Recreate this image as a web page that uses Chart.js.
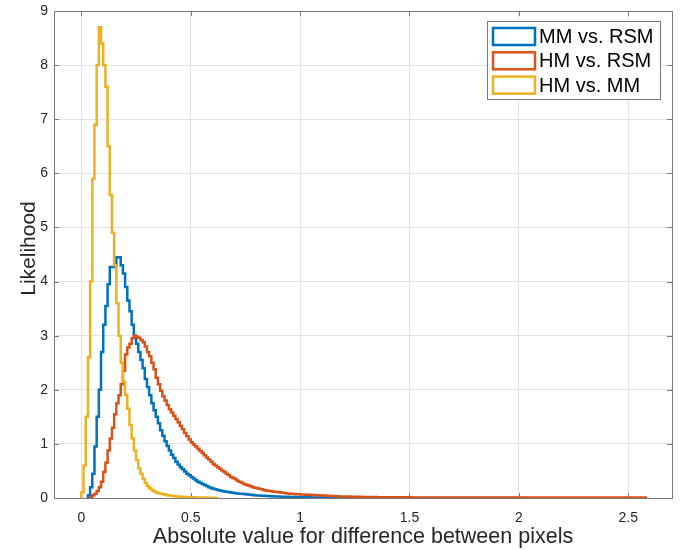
<!DOCTYPE html>
<html>
<head>
<meta charset="utf-8">
<title>Likelihood of pixel differences</title>
<script src="https://cdn.jsdelivr.net/npm/chart.js@4.4.0/dist/chart.umd.min.js"></script>
<style>
  html, body { margin: 0; padding: 0; background: #fff; }
  #chart { display: block; }
</style>
</head>
<body>
<canvas id="chart" width="687" height="550"></canvas>
<script>
// pdf-normalised histograms, every bin is 0.01 wide
const binWidth = 0.01;

const seriesNames = ["MM vs. RSM", "HM vs. RSM", "HM vs. MM"];
const seriesColors = ["#0072BD", "#D95319", "#EDB120"];
const firstBin = [0.03, 0.04, 0.0];

const mmVsRsm = [
  0.05, 0.2, 0.45, 0.95, 1.5, 2.0, 2.7, 3.2, 3.55, 3.95,
  4.27, 4.27, 4.3, 4.45, 4.45, 4.3, 4.15, 3.9, 3.65, 3.45,
  3.2, 3.0, 2.85, 2.7, 2.55, 2.4, 2.2, 2.05, 1.9, 1.75,
  1.62, 1.5, 1.38, 1.25, 1.15, 1.05, 0.96, 0.88, 0.8, 0.74,
  0.67, 0.62, 0.57, 0.53, 0.49, 0.45, 0.42, 0.39, 0.36, 0.33,
  0.3, 0.28, 0.26, 0.24, 0.22, 0.2, 0.185, 0.17, 0.16, 0.15,
  0.14, 0.13, 0.12, 0.115, 0.11, 0.1, 0.095, 0.09, 0.085, 0.08,
  0.078, 0.075, 0.07, 0.065, 0.06, 0.055, 0.05, 0.048, 0.045, 0.042,
  0.04, 0.037, 0.035, 0.033, 0.031, 0.029, 0.027, 0.026, 0.024, 0.023,
  0.022, 0.021, 0.02, 0.019, 0.018, 0.017, 0.016, 0.015, 0.014, 0.013,
  0.012, 0.012, 0.011, 0.01, 0.01, 0.009, 0.009, 0.008, 0.008, 0.007,
  0.007, 0.006, 0.006, 0.005, 0.005, 0.005, 0.004, 0.004, 0.004, 0.003,
  0.003, 0.003, 0.003, 0.002, 0.002, 0.002, 0.002, 0.002, 0.002, 0.001,
  0.001, 0, 0.001, 0.001, 0, 0.001, 0, 0, 0.001, 0,
  0.001, 0, 0, 0.001, 0, 0, 0.001, 0, 0, 0,
  0.001, 0, 0, 0, 0.001, 0, 0, 0, 0, 0.001,
  0, 0, 0, 0, 0.001, 0, 0, 0, 0, 0,
  0.001, 0, 0, 0, 0, 0, 0, 0.001, 0, 0,
  0, 0, 0, 0.001, 0, 0, 0, 0, 0, 0,
  0, 0, 0.001, 0, 0, 0, 0, 0, 0.001, 0.001
];

const hmVsRsm = [
  0.02, 0.05, 0.08, 0.13, 0.2, 0.3, 0.48, 0.65, 0.88, 1.1,
  1.3, 1.55, 1.75, 1.9, 2.1, 2.35, 2.65, 2.78, 2.85, 2.95,
  3.0, 2.98, 2.96, 2.92, 2.88, 2.8, 2.7, 2.62, 2.5, 2.38,
  2.22, 2.1, 1.98, 1.88, 1.8, 1.72, 1.64, 1.58, 1.52, 1.46,
  1.4, 1.33, 1.27, 1.2, 1.14, 1.08, 1.03, 0.99, 0.95, 0.91,
  0.87, 0.83, 0.79, 0.75, 0.71, 0.67, 0.63, 0.6, 0.57, 0.54,
  0.51, 0.48, 0.45, 0.42, 0.39, 0.37, 0.35, 0.32, 0.3, 0.28,
  0.26, 0.245, 0.23, 0.215, 0.2, 0.19, 0.18, 0.17, 0.16, 0.15,
  0.14, 0.135, 0.13, 0.12, 0.115, 0.11, 0.105, 0.1, 0.095, 0.09,
  0.085, 0.08, 0.077, 0.074, 0.07, 0.068, 0.065, 0.063, 0.061, 0.06,
  0.058, 0.056, 0.054, 0.052, 0.05, 0.048, 0.046, 0.044, 0.042, 0.04,
  0.038, 0.036, 0.034, 0.032, 0.03, 0.029, 0.028, 0.027, 0.026, 0.025,
  0.024, 0.023, 0.022, 0.021, 0.02, 0.02, 0.019, 0.018, 0.018, 0.017,
  0.017, 0.016, 0.016, 0.015, 0, 0.015, 0.014, 0.014, 0, 0.013,
  0.013, 0.013, 0.012, 0.012, 0.012, 0, 0.012, 0.011, 0.011, 0.011,
  0.011, 0.011, 0, 0.01, 0.01, 0.01, 0.01, 0.01, 0.01, 0,
  0.01, 0.01, 0.01, 0.01, 0, 0.01, 0.01, 0.009, 0.009, 0.009,
  0.009, 0, 0.009, 0.009, 0.009, 0.009, 0.009, 0, 0.009, 0.009,
  0.009, 0.009, 0.009, 0.008, 0, 0.008, 0.008, 0.008, 0.008, 0.008,
  0.008, 0, 0.008, 0.008, 0.008, 0.008, 0.008, 0.008, 0, 0.008,
  0.008, 0.008, 0.008, 0.008, 0.008, 0, 0.008, 0.008, 0.008, 0.008,
  0.008, 0.008, 0, 0.008, 0.008, 0.008, 0.008, 0.008, 0, 0.008,
  0.008, 0.008, 0.008, 0.008, 0.008, 0.008, 0, 0.008, 0.008, 0.008,
  0.008, 0.008, 0.008, 0, 0.008, 0.008, 0.008, 0.008, 0.008, 0.008,
  0, 0.008, 0.008, 0.008, 0.008, 0.008, 0.008, 0.008, 0, 0.008,
  0.008, 0.008, 0.008, 0.008
];

const hmVsMm = [
  0.1, 0.6, 1.5, 2.6, 4.0, 5.9, 6.9, 8.0, 8.7, 8.4,
  8.0, 7.6, 6.5, 5.6, 4.9, 4.3, 3.6, 3.0, 2.5, 2.15,
  1.9, 1.65, 1.35, 1.1, 0.88, 0.7, 0.55, 0.45, 0.35, 0.28,
  0.22, 0.18, 0.15, 0.12, 0.1, 0.09, 0.08, 0.07, 0.06, 0.05,
  0.045, 0.04, 0.035, 0.03, 0.028, 0.025, 0.022, 0.02, 0.018, 0.016,
  0.014, 0.012, 0.011, 0.01, 0.009, 0.008, 0.007, 0.006, 0.005, 0.004,
  0.003, 0.002
];

const xTicks = [0, 0.5, 1, 1.5, 2, 2.5];
const yTicks = [0, 1, 2, 3, 4, 5, 6, 7, 8, 9];

const FONT = "'Liberation Sans', Arial, Helvetica, sans-serif";
const AXIS_GREY = "#7a7a7a";
const LINE_W = 2.5;

// outline of a histogram: up at the first edge, across each bin, down at the last edge
function stairs(start, counts) {
  const pts = [{ x: start, y: 0 }];
  counts.forEach(function (c, i) {
    pts.push({ x: +(start + i * binWidth).toFixed(4), y: c });
  });
  pts.push({ x: +(start + counts.length * binWidth).toFixed(4), y: 0 });
  return pts;
}

const seriesValues = [mmVsRsm, hmVsRsm, hmVsMm];

const datasets = seriesValues.map(function (vals, i) {
  return {
    label: seriesNames[i],
    data: stairs(firstBin[i], vals),
    borderColor: seriesColors[i],
    backgroundColor: seriesColors[i],
    borderWidth: LINE_W,
    borderJoinStyle: "miter",
    stepped: true,
    pointRadius: 0,
    fill: false,
    // later series sit on top
    order: seriesValues.length - 1 - i,
  };
});

// box round the axes with inward tick marks, under the data
const axesBox = {
  id: "axesBox",
  beforeDatasetsDraw(chart) {
    const { ctx, chartArea: a, scales } = chart;
    const tick = 5;
    ctx.save();
    ctx.strokeStyle = AXIS_GREY;
    ctx.lineWidth = 1;
    ctx.beginPath();
    xTicks.forEach(function (v) {
      const px = Math.round(scales.x.getPixelForValue(v)) + 0.5;
      ctx.moveTo(px, a.bottom);
      ctx.lineTo(px, a.bottom - tick);
      ctx.moveTo(px, a.top);
      ctx.lineTo(px, a.top + tick);
    });
    yTicks.forEach(function (v) {
      const py = Math.round(scales.y.getPixelForValue(v)) + 0.5;
      ctx.moveTo(a.left, py);
      ctx.lineTo(a.left + tick, py);
      ctx.moveTo(a.right, py);
      ctx.lineTo(a.right - tick, py);
    });
    ctx.stroke();
    ctx.strokeRect(Math.round(a.left) + 0.5, Math.round(a.top) + 0.5,
      Math.round(a.right - a.left), Math.round(a.bottom - a.top));

    // y axis label, a little above the middle of the axis
    ctx.fillStyle = "#262626";
    ctx.font = "21px " + FONT;
    ctx.textAlign = "center";
    ctx.textBaseline = "middle";
    ctx.translate(29, (a.top + a.bottom) / 2 - 6);
    ctx.rotate(-Math.PI / 2);
    ctx.fillText("Likelihood", 0, 0);
    ctx.restore();
  },
};

// legend box in the top right corner, outlined swatches like stairs histograms
const boxLegend = {
  id: "boxLegend",
  afterDatasetsDraw(chart) {
    const ctx = chart.ctx;
    const left = 487.5, top = 21.5, w = 173, h = 78;
    ctx.save();
    ctx.fillStyle = "#fff";
    ctx.fillRect(left, top, w, h);
    ctx.strokeStyle = AXIS_GREY;
    ctx.lineWidth = 1;
    ctx.strokeRect(left, top, w, h);
    ctx.font = "20px " + FONT;
    ctx.textBaseline = "middle";
    ctx.textAlign = "left";
    seriesNames.forEach(function (name, i) {
      const cy = 36.5 + i * 24.3;
      ctx.strokeStyle = seriesColors[i];
      ctx.lineWidth = LINE_W;
      ctx.strokeRect(493, cy - 8.5, 42, 17);
      ctx.fillStyle = "#000";
      ctx.fillText(name, 539, cy + 1);
    });
    ctx.restore();
  },
};

// the tick labels may hang over the plot edges; don't let them shrink the plot
function noEdgePadding(scale) {
  scale.paddingTop = 0;
  scale.paddingBottom = 0;
  scale.paddingLeft = 0;
  scale.paddingRight = 0;
}

const config = {
  type: "line",
  data: { datasets: datasets },
  options: {
    responsive: false,
    animation: false,
    events: [],
    layout: { padding: { top: 11, right: 15, left: 0, bottom: 0 } },
    plugins: {
      legend: { display: false },
      tooltip: { enabled: false },
    },
    scales: {
      x: {
        type: "linear",
        min: -0.125,
        max: 2.7,
        afterBuildTicks: function (scale) {
          scale.ticks = xTicks.map(function (v) { return { value: v }; });
        },
        afterFit: function (scale) {
          scale.height = 52;
          noEdgePadding(scale);
        },
        grid: { color: "#e4e4e4", lineWidth: 1, drawTicks: false },
        border: { display: false },
        ticks: {
          autoSkip: false,
          maxRotation: 0,
          padding: 12,
          color: "#262626",
          font: { family: FONT, size: 14 },
          callback: function (v) { return String(v); },
        },
        title: {
          display: true,
          text: "Absolute value for difference between pixels",
          color: "#262626",
          font: { family: FONT, size: 21.5 },
          padding: { top: 0, bottom: 0 },
        },
      },
      y: {
        min: 0,
        max: 9,
        afterBuildTicks: function (scale) {
          scale.ticks = yTicks.map(function (v) { return { value: v }; });
        },
        afterFit: function (scale) {
          scale.width = 54;
          noEdgePadding(scale);
        },
        grid: { color: "#e4e4e4", lineWidth: 1, drawTicks: false },
        border: { display: false },
        ticks: {
          padding: 6,
          color: "#262626",
          font: { family: FONT, size: 14 },
          callback: function (v) { return String(v); },
        },
      },
    },
  },
  plugins: [axesBox, boxLegend],
};

new Chart(document.getElementById("chart").getContext("2d"), config);
</script>
</body>
</html>
